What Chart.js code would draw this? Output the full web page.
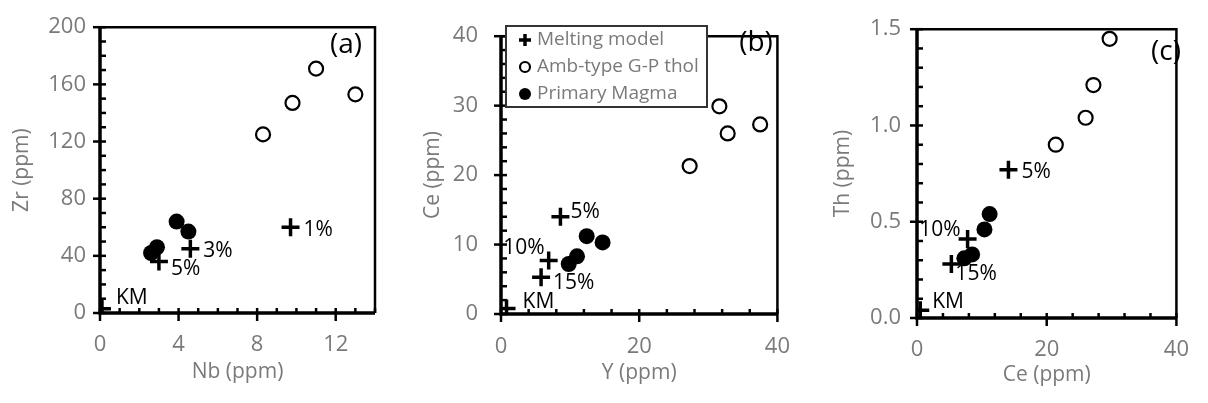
<!DOCTYPE html>
<html>
<head>
<meta charset="utf-8">
<script src="https://cdn.jsdelivr.net/npm/chart.js@4"></script>
<style>
  body { margin: 0; background: #fff; width: 1208px; height: 403px; position: relative; overflow: hidden; }
  canvas { position: absolute; top: 0; }
</style>
</head>
<body>
<canvas id="chartA" width="400" height="403" style="left:0px"></canvas>
<canvas id="chartB" width="410" height="403" style="left:400px"></canvas>
<canvas id="chartC" width="398" height="403" style="left:810px"></canvas>
<script>
// (a) Nb vs Zr
const nbMelt = [0.1, 3.0, 4.6, 9.7];
const zrMelt = [3, 36, 45, 60];
const nbAmb = [8.3, 9.8, 11.0, 13.0];
const zrAmb = [125, 147, 171, 153];
const nbPrim = [3.9, 4.5, 2.9, 2.6];
const zrPrim = [64, 57, 46, 42];
const meltLabelsA = ['KM', '5%', '3%', '1%'];

// (b) Y vs Ce
const yMelt = [0.8, 5.8, 6.9, 8.6];
const ceMeltB = [0.8, 5.3, 7.7, 14.0];
const yAmb = [27.3, 31.6, 32.8, 37.5];
const ceAmbB = [21.3, 29.9, 26.0, 27.3];
const yPrim = [12.4, 14.7, 11.0, 9.8];
const cePrimB = [11.2, 10.3, 8.3, 7.2];
const meltLabelsB = ['KM', '15%', '10%', '5%'];

// (c) Ce vs Th
const ceMeltC = [0.5, 5.3, 7.8, 14.1];
const thMelt = [0.04, 0.28, 0.41, 0.77];
const ceAmbC = [21.4, 26.0, 27.2, 29.7];
const thAmb = [0.90, 1.04, 1.21, 1.45];
const cePrimC = [7.3, 8.5, 10.4, 11.2];
const thPrim = [0.31, 0.33, 0.46, 0.54];
const meltLabelsC = ['KM', '15%', '10%', '5%'];

const seriesNames = ['Melting model', 'Amb-type G-P thol', 'Primary Magma'];

const FONT = "'Open Sans', 'DejaVu Sans', sans-serif";
const GREY = '#7a7a7a';

const pts = (xs, ys) => xs.map((x, i) => ({x: x, y: ys[i]}));

// axis frame, crossing major ticks, inward minor ticks
const framePlugin = {
  id: 'frame',
  beforeDatasetsDraw(chart) {
    const o = chart.options.plugins.frame;
    const {ctx, chartArea: a, scales: {x, y}} = chart;
    ctx.save();
    ctx.strokeStyle = '#000';
    ctx.lineWidth = 2.5;
    ctx.beginPath();
    ctx.moveTo(a.left, a.top); ctx.lineTo(a.right, a.top); ctx.lineTo(a.right, a.bottom);
    ctx.stroke();
    ctx.lineWidth = 2.5;
    for (let v = 0; v <= o.yMax + 1e-9; v += o.yMinor) {
      const p = y.getPixelForValue(v);
      const major = Math.abs(v / o.yMajor - Math.round(v / o.yMajor)) < 1e-6;
      ctx.beginPath();
      ctx.moveTo(major ? a.left - 7 : a.left, p); ctx.lineTo(a.left + 6, p);
      ctx.stroke();
    }
    for (let v = 0; v <= o.xMax + 1e-9; v += o.xMinor) {
      const p = x.getPixelForValue(v);
      const major = Math.abs(v / o.xMajor - Math.round(v / o.xMajor)) < 1e-6;
      ctx.beginPath();
      ctx.moveTo(p, major ? a.bottom + 8 : a.bottom); ctx.lineTo(p, a.bottom - 5);
      ctx.stroke();
    }
    ctx.lineWidth = 3.5;
    ctx.beginPath();
    ctx.moveTo(a.left, a.top); ctx.lineTo(a.left, a.bottom); ctx.lineTo(a.right, a.bottom);
    ctx.stroke();
    ctx.restore();
  },
  afterDatasetsDraw(chart) {
    const o = chart.options.plugins.frame;
    const {ctx} = chart;
    ctx.save();
    ctx.fillStyle = '#000';
    ctx.textBaseline = 'middle';
    // model melt-fraction labels next to the crosses
    ctx.font = '21px ' + FONT;
    const meta = chart.getDatasetMeta(0);
    o.labels.forEach((txt, i) => {
      const el = meta.data[i];
      const [dx, dy, al] = o.labelPos[i];
      ctx.textAlign = al;
      ctx.fillText(txt, el.x + dx, el.y + dy);
    });
    // panel letter
    ctx.font = '28px ' + FONT;
    ctx.textAlign = 'center';
    ctx.fillText(o.panel, o.panelXY[0], o.panelXY[1]);

    if (o.legend) {
      const [l, t, r, b] = o.legend;
      ctx.fillStyle = '#fff';
      ctx.fillRect(l, t, r - l, b - t);
      ctx.strokeStyle = '#333';
      ctx.lineWidth = 2;
      ctx.strokeRect(l, t, r - l, b - t);
      ctx.font = '19px ' + FONT;
      ctx.textAlign = 'left';
      chart.data.datasets.forEach((ds, i) => {
        const cy = t + 14 + i * 27;
        const cx = l + 19;
        ctx.strokeStyle = '#000';
        ctx.fillStyle = '#000';
        if (ds.pointStyle === 'cross') {
          ctx.lineWidth = 3.5;
          ctx.beginPath();
          ctx.moveTo(cx - 6, cy); ctx.lineTo(cx + 6, cy);
          ctx.moveTo(cx, cy - 6); ctx.lineTo(cx, cy + 6);
          ctx.stroke();
        } else if (ds.backgroundColor === '#fff') {
          ctx.lineWidth = 2.2;
          ctx.beginPath(); ctx.arc(cx, cy, 5, 0, Math.PI * 2); ctx.stroke();
        } else {
          ctx.beginPath(); ctx.arc(cx, cy, 6, 0, Math.PI * 2); ctx.fill();
        }
        ctx.fillStyle = GREY;
        ctx.fillText(ds.label, l + 31, cy);
      });
    }
    ctx.restore();
  }
};

function makePanel(id, canvasW, area, melt, amb, prim, axes, extra) {
  const layoutRight = canvasW - area.right;
  new Chart(document.getElementById(id), {
    type: 'scatter',
    data: {
      datasets: [
        {label: seriesNames[0], data: melt, pointStyle: 'cross', pointRadius: 9, pointHoverRadius: 9,
         borderColor: '#000', pointBorderWidth: 3.5, backgroundColor: '#000'},
        {label: seriesNames[1], data: amb, pointStyle: 'circle', pointRadius: 7, pointHoverRadius: 7,
         borderColor: '#000', pointBorderWidth: 2.2, backgroundColor: '#fff'},
        {label: seriesNames[2], data: prim, pointStyle: 'circle', pointRadius: 8, pointHoverRadius: 8,
         borderColor: '#000', pointBorderWidth: 0, backgroundColor: '#000'}
      ]
    },
    options: {
      responsive: false,
      animation: false,
      events: [],
      layout: {padding: {top: area.top, right: layoutRight, left: 0, bottom: 0}},
      scales: {
        x: {
          type: 'linear', min: 0, max: axes.xMax,
          grid: {display: false, drawTicks: false}, border: {display: false},
          ticks: {stepSize: axes.xMajor, includeBounds: false, padding: axes.xPad,
                  color: GREY, font: {family: FONT, size: 22}},
          title: {display: true, text: axes.xTitle, color: GREY, font: {family: FONT, size: 21},
                  padding: {top: 0, bottom: axes.xTitlePad}},
          afterFit(s) { s.height = 403 - area.bottom; }
        },
        y: {
          type: 'linear', min: 0, max: axes.yMax,
          grid: {display: false, drawTicks: false}, border: {display: false},
          ticks: {stepSize: axes.yMajor, includeBounds: false, padding: axes.yPad,
                  color: GREY, font: {family: FONT, size: 22},
                  callback: v => axes.yFixed ? v.toFixed(1) : v},
          title: {display: true, text: axes.yTitle, color: GREY, font: {family: FONT, size: 21},
                  padding: {top: axes.yTitlePad, bottom: 0}},
          afterFit(s) { s.width = area.left; }
        }
      },
      plugins: {
        legend: {display: false},
        tooltip: {enabled: false},
        frame: Object.assign({}, axes, extra)
      }
    },
    plugins: [framePlugin]
  });
}

makePanel('chartA', 400, {left: 100, right: 375, top: 22, bottom: 313},
  pts(nbMelt, zrMelt), pts(nbAmb, zrAmb), pts(nbPrim, zrPrim),
  {xMax: 14, xMajor: 4, xMinor: 1, yMax: 200, yMajor: 40, yMinor: 10,
   xPad: 19, yPad: 14, xTitle: 'Nb (ppm)', yTitle: 'Zr (ppm)', xTitlePad: 18, yTitlePad: 9},
  {labels: meltLabelsA, panel: '(a)', panelXY: [346, 45],
   labelPos: [[14, -11, 'left'], [12, 7, 'left'], [13, 2, 'left'], [13, 3, 'left']]});

makePanel('chartB', 410, {left: 101, right: 382, top: 22, bottom: 314},
  pts(yMelt, ceMeltB), pts(yAmb, ceAmbB), pts(yPrim, cePrimB),
  {xMax: 40, xMajor: 20, xMinor: 4, yMax: 40, yMajor: 10, yMinor: 2,
   xPad: 20, yPad: 23, xTitle: 'Y (ppm)', yTitle: 'Ce (ppm)', xTitlePad: 17, yTitlePad: 20},
  {labels: meltLabelsB, panel: '(b)', panelXY: [356, 43], legend: [106, 26, 307, 107],
   labelPos: [[16, -6, 'left'], [12, 6, 'left'], [-4, -13, 'right'], [10, -5, 'left']]});

makePanel('chartC', 398, {left: 107, right: 382, top: 22, bottom: 318},
  pts(ceMeltC, thMelt), pts(ceAmbC, thAmb), pts(cePrimC, thPrim),
  {xMax: 40, xMajor: 20, xMinor: 4, yMax: 1.5, yMajor: 0.5, yMinor: 0.1, yFixed: true,
   xPad: 19, yPad: 16, xTitle: 'Ce (ppm)', yTitle: 'Th (ppm)', xTitlePad: 15, yTitlePad: 20},
  {labels: meltLabelsC, panel: '(c)', panelXY: [356, 52],
   labelPos: [[12, -8, 'left'], [4, 10, 'left'], [-7, -9, 'right'], [13, 2, 'left']]});
</script>
</body>
</html>
